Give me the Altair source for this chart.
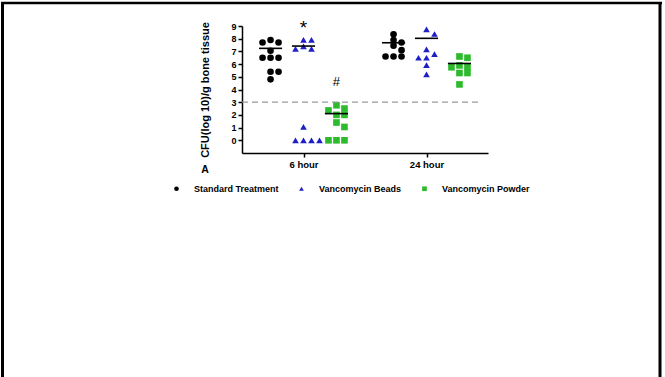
import math
import altair as alt
import pandas as pd

# ---------------- data ----------------
groups = ["Standard Treatment", "Vancomycin Beads", "Vancomycin Powder"]
times = ["6 hour", "24 hour"]

std_6h = [7.9, 7.7, 7.7, 7.05, 6.5, 6.5, 6.5, 5.4, 5.4, 4.8]
beads_6h = [7.9, 7.9, 7.4, 7.2, 7.2, 1.05, 0, 0, 0, 0]
powder_6h = [2.76, 2.5, 2.35, 2.0, 2.0, 1.4, 1.05, 0, 0, 0]
std_24h = [8.35, 7.9, 7.7, 7.45, 7.1, 6.6, 6.6, 6.6]
beads_24h = [8.74, 8.37, 7.16, 6.79, 6.5, 6.5, 5.92, 5.2]
powder_24h = [6.6, 6.5, 5.9, 5.75, 5.75, 5.3, 5.3, 4.4]

mean_6h = [7.24, 7.42, 2.1]
mean_24h = [7.68, 8.03, 6.05]

threshold = 3
y_ticks = [0, 1, 2, 3, 4, 5, 6, 7, 8, 9]
annot_labels = ["*", "#"]
annot_groups = ["Vancomycin Beads", "Vancomycin Powder"]
annot_values = [8.4, 4.3]     # baseline of the significance marks
annot_sizes = [19, 13]

colors = ["#000000", "#1f1fc8", "#2dbb2d"]
shapes = ["circle", "triangle-up", "square"]

# ---------------- layout helpers ----------------
W, H = 246, 127
X_DOMAIN = [0, 2]
Y_DOMAIN = [-1, 9]
time_center = {t: i + 0.5 for i, t in enumerate(times)}
group_shift = {g: (i - 1) * 0.268 for i, g in enumerate(groups)}

# beeswarm placement (column scatter, as drawn by the plotting program)
PX_X = (X_DOMAIN[1] - X_DOMAIN[0]) / W   # x data units per pixel
PX_Y = (Y_DOMAIN[1] - Y_DOMAIN[0]) / H   # y data units per pixel
STEP_PX = 8.0
DIAM_PX = 5.6


def swarm(vals):
    order = sorted(range(len(vals)), key=lambda i: -vals[i])
    placed = []
    off = [0.0] * len(vals)
    cands = [0]
    for k in range(1, 8):
        cands += [k, -k]
    for i in order:
        ypx = vals[i] / PX_Y
        for c in cands:
            xpx = c * STEP_PX
            if all(math.hypot(xpx - px, ypx - py) >= DIAM_PX for px, py in placed):
                break
        placed.append((xpx, ypx))
        off[i] = xpx * PX_X
    return off


series = {
    ("6 hour", groups[0]): std_6h,
    ("6 hour", groups[1]): beads_6h,
    ("6 hour", groups[2]): powder_6h,
    ("24 hour", groups[0]): std_24h,
    ("24 hour", groups[1]): beads_24h,
    ("24 hour", groups[2]): powder_24h,
}

rows = []
for (t, g), vals in series.items():
    offs = swarm(vals)
    for v, o in zip(vals, offs):
        rows.append({"time": t, "group": g, "value": v,
                     "xpos": time_center[t] + group_shift[g] + o})
points_df = pd.DataFrame(rows)

mrows = []
for t, means in zip(times, [mean_6h, mean_24h]):
    for g, m in zip(groups, means):
        c = time_center[t] + group_shift[g]
        mrows.append({"xpos": c - 0.094, "x2": c + 0.094, "value": m})
means_df = pd.DataFrame(mrows)

adf = pd.DataFrame({
    "label": annot_labels,
    "xpos": [time_center["6 hour"] + group_shift[g] for g in annot_groups],
    "value": annot_values,
    "size": annot_sizes,
})

FONT = "Liberation Sans"
label_expr = " : ".join(
    [f"datum.value < {time_center[t] + 0.5} ? '{t}'" for t in times[:-1]]
) + f" : '{times[-1]}'"

xscale = alt.Scale(domain=X_DOMAIN, nice=False, zero=False)
yscale = alt.Scale(domain=Y_DOMAIN, nice=False, zero=False)
xaxis = alt.Axis(values=[time_center[t] for t in times], labelExpr=label_expr,
                 title=None, grid=False)
yaxis = alt.Axis(values=y_ticks, title="CFU(log 10)/g bone tissue", grid=False,
                 titlePadding=20, labelOverlap=False)


def X():
    return alt.X("xpos:Q", scale=xscale, axis=xaxis)


def Y():
    return alt.Y("value:Q", scale=yscale, axis=yaxis)


legend = alt.Legend(
    title=None, orient="none", legendX=-70, legendY=158, direction="horizontal",
    labelFont=FONT, labelFontSize=9, labelFontWeight="bold", labelColor="#000",
    symbolSize=22, labelOffset=13, columnPadding=18, symbolStrokeWidth=0,
)

points = alt.Chart(points_df).mark_point(filled=True, opacity=1, size=44).encode(
    x=X(), y=Y(),
    color=alt.Color("group:N", scale=alt.Scale(domain=groups, range=colors), legend=legend),
    shape=alt.Shape("group:N", scale=alt.Scale(domain=groups, range=shapes), legend=legend),
)

mean_lines = alt.Chart(means_df).mark_rule(color="#000", strokeWidth=1.6).encode(
    x=X(), x2="x2:Q", y=Y()
)

dashed = alt.Chart(pd.DataFrame({"value": [threshold]})).mark_rule(
    color="#9a9a9a", strokeDash=[6, 4], strokeWidth=1.3
).encode(y=Y(), x=alt.value(0), x2=alt.value(240))

annots = alt.Chart(adf).mark_text(font=FONT, color="#000", baseline="alphabetic").encode(
    x=X(), y=Y(), text="label:N",
    size=alt.Size("size:Q", scale=None, legend=None),
)

panel_label = alt.Chart(pd.DataFrame({"t": ["A"]})).mark_text(
    font=FONT, fontSize=10.5, fontWeight="bold", color="#000", baseline="middle"
).encode(x=alt.value(-37), y=alt.value(144), text="t:N")

frame_left = alt.Chart(pd.DataFrame({"k": [0]})).mark_rule(color="#000", strokeWidth=3).encode(
    x=alt.value(-239.5), y=alt.value(-24), y2=alt.value(351))
frame_top = alt.Chart(pd.DataFrame({"k": [0]})).mark_rule(color="#000", strokeWidth=2.5).encode(
    x=alt.value(-241), x2=alt.value(420), y=alt.value(-23))
frame_right = alt.Chart(pd.DataFrame({"k": [0]})).mark_rule(color="#000", strokeWidth=3).encode(
    x=alt.value(418), y=alt.value(-24), y2=alt.value(351))

chart = alt.layer(
    points, dashed, mean_lines, annots, panel_label, frame_left, frame_top, frame_right
).properties(
    width=W, height=H,
    padding={"left": 242, "top": 26, "right": 177, "bottom": 224},
    autosize=alt.AutoSizeParams(type="none"),
    background="#ffffff",
).configure_view(strokeWidth=0).configure_axis(
    domainColor="#000", domainWidth=1.5, tickColor="#000", tickWidth=1.5, tickSize=4,
    labelFont=FONT, labelFontWeight="bold", labelColor="#000", labelPadding=2,
    titleFont=FONT, titleFontWeight="bold", titleFontSize=11, titleColor="#000",
).configure_axisX(labelFontSize=9.5).configure_axisY(labelFontSize=9)

chart.save("out.html", embed_options={"renderer": "svg", "actions": False})
